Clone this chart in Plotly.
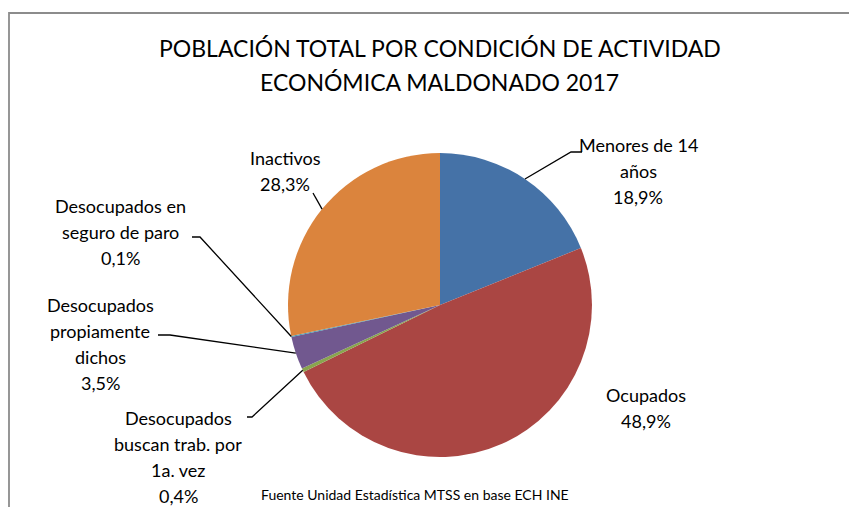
import math
import plotly.graph_objects as go

# la pagina html pone el grafico a 8 px del borde
OFF = 8
W, H = 857 - OFF, 507 - OFF

# --- datos ---
categorias = ["Menores de 14 años", "Ocupados", "Desocupados buscan trab. por 1a. vez",
              "Desocupados propiamente dichos", "Desocupados en seguro de paro", "Inactivos"]
porcentajes = [18.9, 48.9, 0.4, 3.5, 0.1, 28.3]
etiquetas = [["Menores de 14", "años", "18,9%"],
             ["Ocupados", "48,9%"],
             ["Desocupados", "buscan trab. por", "1a. vez", "0,4%"],
             ["Desocupados", "propiamente", "dichos", "3,5%"],
             ["Desocupados en", "seguro de paro", "0,1%"],
             ["Inactivos", "28,3%"]]
colores = ["#4572A7", "#AA4643", "#89A54E", "#71588F", "#4198AF", "#DB843D"]
titulo = ["POBLACIÓN TOTAL POR CONDICIÓN DE ACTIVIDAD", "ECONÓMICA MALDONADO 2017"]
fuente = "Fuente Unidad Estadística MTSS en base ECH INE"

# geometria del pie (px de la ventana)
cx, cy, r = 440, 305, 152

# posicion de etiquetas (px: centro x, y de la primera linea) y codo de la linea guia
label_pos = [(638, 145), (646, 395), (178, 418), (100, 305), (120, 206), (285, 158)]
codos = [[(571, 152), (582, 152)], None, [(252, 417), (247, 417)],
         [(170, 335), (158, 335)], [(200, 237), (192, 237)], [(313, 193)]]
interlinea = 26


def px(x, y):
    return (x - OFF) / W, 1 - (y - OFF) / H


fig = go.Figure()
fig.add_trace(go.Pie(
    labels=categorias,
    values=porcentajes,
    sort=False,
    direction="clockwise",
    rotation=0,
    marker=dict(colors=colores, line=dict(width=0)),
    textinfo="none",
    hoverinfo="label+percent",
    showlegend=False,
    domain=dict(x=[px(cx - r, 0)[0], px(cx + r, 0)[0]], y=[px(0, cy + r)[1], px(0, cy - r)[1]]),
))

# borde del area del grafico (abierto a la derecha y abajo, como en el recorte original)
x0, y0 = px(9, 13)
shapes = [dict(type="path", xref="paper", yref="paper",
               path=f"M {x0},-0.05 L {x0},{y0} L 1.05,{y0}",
               line=dict(color="#8c8c8c", width=1.8))]

total = sum(porcentajes)
acum = 0
for v, codo in zip(porcentajes, codos):
    mid = (acum + v / 2) / total * 2 * math.pi
    acum += v
    if codo is None:
        continue
    ex, ey = cx + r * math.sin(mid), cy - r * math.cos(mid)
    pts = [px(ex, ey)] + [px(a, b) for a, b in codo]
    path = "M " + " L ".join(f"{a},{b}" for a, b in pts)
    shapes.append(dict(type="path", xref="paper", yref="paper", path=path,
                       line=dict(color="black", width=1.3)))

annotations = []


def texto(t, x, y, size):
    xx, yy = px(x, y)
    annotations.append(dict(x=xx, y=yy, xref="paper", yref="paper", text=t, showarrow=False,
                            xanchor="center", yanchor="middle", align="center",
                            font=dict(size=size, color="black")))


for lineas, (lx, ly) in zip(etiquetas, label_pos):
    for i, t in enumerate(lineas):
        texto(t, lx, ly + i * interlinea, 18)

for i, t in enumerate(titulo):
    texto(t, 440, 48 + i * 34, 23)

texto(fuente, 415, 494, 14)

fig.update_layout(
    width=W, height=H,
    margin=dict(l=0, r=0, t=0, b=0),
    paper_bgcolor="white",
    font=dict(family="Lato, Open Sans, sans-serif", color="black"),
    shapes=shapes,
    annotations=annotations,
)

fig.write_html("out.html")
